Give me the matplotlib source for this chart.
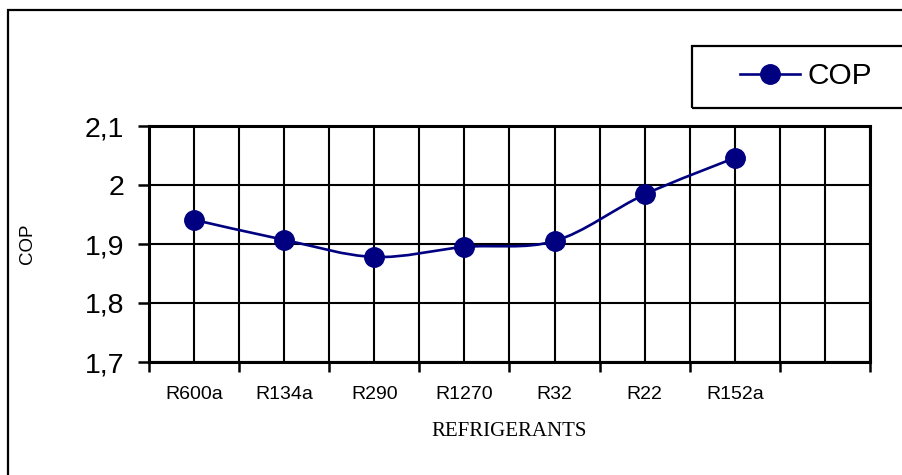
import numpy as np
import matplotlib
matplotlib.use('Agg')
import matplotlib.pyplot as plt
from matplotlib.path import Path
from matplotlib.patches import PathPatch, Rectangle
from matplotlib.lines import Line2D
from matplotlib.ticker import FixedLocator, FuncFormatter

# data
refrigerants = ['R600a', 'R134a', 'R290', 'R1270', 'R32', 'R22', 'R152a']
cop = [1.941, 1.907, 1.878, 1.895, 1.905, 1.984, 2.046]
n_slots = 8  # axis has one empty category slot on the right
y_ticks = [1.7, 1.8, 1.9, 2.0, 2.1]

navy = '#000080'

plt.rcParams['font.family'] = ['Liberation Sans', 'DejaVu Sans']

fig = plt.figure(figsize=(9.03, 4.75), dpi=100)
W, H = 903, 475
ax = fig.add_axes([149 / W, 1 - 362 / H, (870 - 149) / W, (362 - 126) / H])

x = np.arange(len(cop)) + 0.5
y = np.array(cop)

# smoothed line (Excel-style bezier through the points)
verts = [(x[0], y[0])]
codes = [Path.MOVETO]
for i in range(len(x) - 1):
    x0, y0 = (x[i - 1], y[i - 1]) if i > 0 else (x[i], y[i])
    x3, y3 = (x[i + 2], y[i + 2]) if i + 2 < len(x) else (x[i + 1], y[i + 1])
    c1 = (x[i] + (x[i + 1] - x0) / 6, y[i] + (y[i + 1] - y0) / 6)
    c2 = (x[i + 1] - (x3 - x[i]) / 6, y[i + 1] - (y3 - y[i]) / 6)
    verts += [c1, c2, (x[i + 1], y[i + 1])]
    codes += [Path.CURVE4] * 3
ax.add_patch(PathPatch(Path(verts, codes), facecolor='none', edgecolor=navy, lw=1.9, zorder=3))
ax.plot(x, y, linestyle='none', marker='o', markersize=14, color=navy, zorder=4)

ax.set_xlim(0, n_slots)
ax.set_ylim(1.7, 2.1)

# major x ticks on category boundaries, labels at category centres
ax.xaxis.set_major_locator(FixedLocator(np.arange(n_slots + 1)))
ax.xaxis.set_minor_locator(FixedLocator(np.arange(n_slots) + 0.5))
ax.set_xticklabels([])
ax.set_xticklabels(refrigerants + [''], minor=True, fontsize=14)
ax.tick_params(axis='x', which='major', length=7, width=1.8, direction='out')
ax.tick_params(axis='x', which='minor', length=0, pad=17)

ax.set_yticks(y_ticks)
ax.yaxis.set_major_formatter(FuncFormatter(lambda v, p: f'{v:g}'.replace('.', ',')))
ax.tick_params(axis='y', length=8, width=1.8, direction='out', labelsize=20.5, pad=10)

ax.grid(True, which='both', axis='x', color='black', lw=1.5)
ax.grid(True, which='major', axis='y', color='black', lw=1.5)
ax.set_axisbelow(True)
for s in ax.spines.values():
    s.set_linewidth(2.2)

ax.set_xlabel('REFRIGERANTS', family='Liberation Serif', fontsize=15, labelpad=14)
fig.text(28 / W, 1 - 244 / H, 'COP', rotation=90, ha='center', va='center', fontsize=13.5)

# outer chart border (right and bottom run off the image)
fig.patches.append(Rectangle((8 / W, -0.1), 1.2, 1 - 10 / H + 0.1, transform=fig.transFigure,
                             fill=False, edgecolor='black', lw=1.6))
# legend box
fig.patches.append(Rectangle((692 / W, 1 - 108 / H), 0.5, 62 / H, transform=fig.transFigure,
                             fill=False, edgecolor='black', lw=1.6))
handle = Line2D([], [], color=navy, lw=1.9, marker='o', markersize=14)
fig.legend([handle], ['COP'], loc='center left', bbox_to_anchor=(725 / W, 1 - 76 / H),
           frameon=False, fontsize=21.5, handlelength=2.0, handletextpad=0.25, borderpad=0)

fig.savefig('out.png', dpi=100)
